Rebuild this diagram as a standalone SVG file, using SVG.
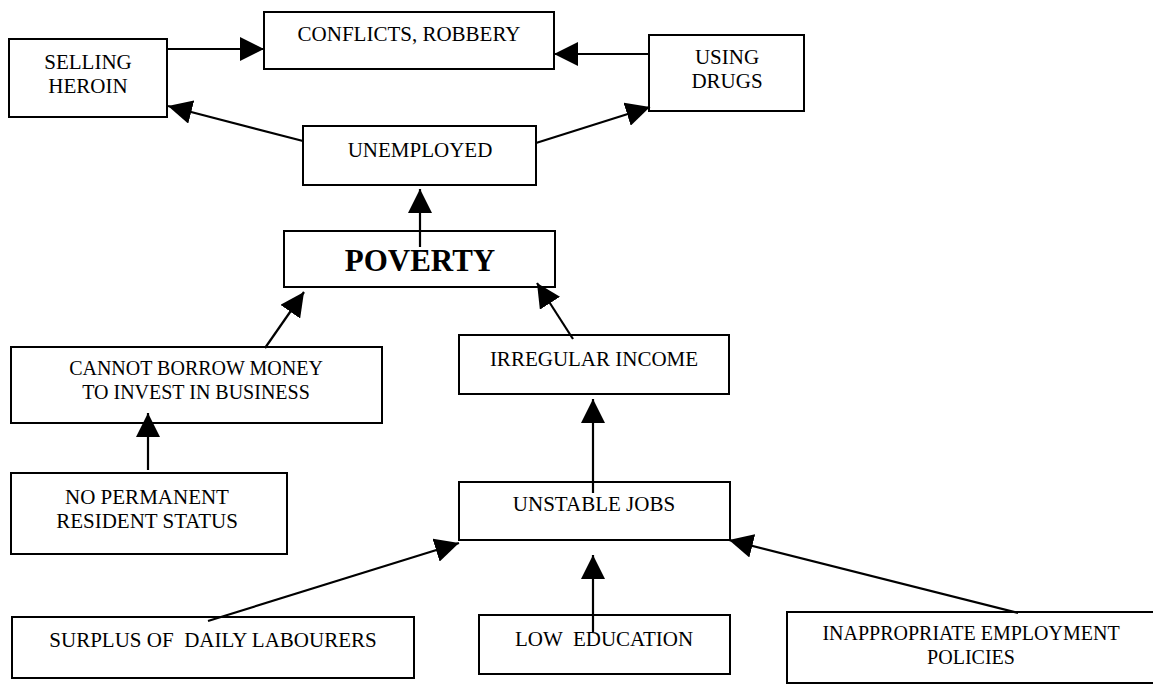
<svg xmlns="http://www.w3.org/2000/svg" width="1153" height="687" viewBox="0 0 1153 687">
<style>
.box{fill:#fff;stroke:#000;stroke-width:2}
.t{font-family:"Liberation Serif","Times New Roman",serif;font-size:21px;fill:#000;text-anchor:middle;white-space:pre}
.s{font-size:20px}
.b{font-weight:bold;font-size:31px}
.c{fill:none;stroke:#000;stroke-width:2.2}
</style>
<defs>
<marker id="ah" markerUnits="userSpaceOnUse" markerWidth="24" markerHeight="24" viewBox="0 0 20 20" refX="20" refY="10" orient="auto">
<path d="M0,0 L20,10 L0,20 Z" fill="#000"/>
</marker>
</defs>
<rect width="1153" height="687" fill="#fff"/>
<g id="selling-heroin"><rect class="box" x="9" y="39" width="158" height="78"/><text class="t" x="88" y="69">SELLING</text><text class="t" x="88" y="93">HEROIN</text></g>
<g id="conflicts"><rect class="box" x="264" y="12" width="290" height="57"/><text class="t" x="409" y="41">CONFLICTS, ROBBERY</text></g>
<g id="using-drugs"><rect class="box" x="649" y="35" width="155" height="76"/><text class="t" x="727" y="64">USING</text><text class="t" x="727" y="88">DRUGS</text></g>
<g id="unemployed"><rect class="box" x="303" y="126" width="233" height="59"/><text class="t" x="420" y="157">UNEMPLOYED</text></g>
<g id="poverty"><rect class="box" x="284" y="231" width="271" height="56"/><text class="t b" x="420" y="271">POVERTY</text></g>
<g id="cannot-borrow"><rect class="box" x="11" y="347" width="371" height="76"/><text class="t s" x="196" y="375">CANNOT BORROW MONEY</text><text class="t s" x="196" y="399">TO INVEST IN BUSINESS</text></g>
<g id="irregular-income"><rect class="box" x="459" y="335" width="270" height="59"/><text class="t" x="594" y="366">IRREGULAR INCOME</text></g>
<g id="no-permanent"><rect class="box" x="11" y="473" width="276" height="81"/><text class="t" x="147" y="504">NO PERMANENT</text><text class="t" x="147" y="528">RESIDENT STATUS</text></g>
<g id="unstable-jobs"><rect class="box" x="459" y="482" width="271" height="58"/><text class="t" x="594" y="511">UNSTABLE JOBS</text></g>
<g id="surplus"><rect class="box" x="12" y="617" width="402" height="61"/><text class="t" x="213" y="647">SURPLUS OF  DAILY LABOURERS</text></g>
<g id="low-education"><rect class="box" x="479" y="615" width="251" height="59"/><text class="t" x="604" y="646">LOW  EDUCATION</text></g>
<g id="inappropriate"><rect class="box" x="787" y="612" width="400" height="71"/><text class="t s" x="971" y="640">INAPPROPRIATE EMPLOYMENT</text><text class="t s" x="971" y="664">POLICIES</text></g>
<g id="connectors">
<line class="c" x1="167" y1="49" x2="264" y2="49" marker-end="url(#ah)"/>
<line class="c" x1="649" y1="54" x2="554" y2="54" marker-end="url(#ah)"/>
<line class="c" x1="303" y1="141" x2="168" y2="106" marker-end="url(#ah)"/>
<line class="c" x1="536" y1="143" x2="650" y2="107" marker-end="url(#ah)"/>
<line class="c" x1="420" y1="247" x2="420" y2="189" marker-end="url(#ah)"/>
<line class="c" x1="265" y1="348" x2="304" y2="292" marker-end="url(#ah)"/>
<line class="c" x1="573" y1="339" x2="537" y2="283" marker-end="url(#ah)"/>
<line class="c" x1="593" y1="493" x2="593" y2="399" marker-end="url(#ah)"/>
<line class="c" x1="148" y1="470" x2="148" y2="413" marker-end="url(#ah)"/>
<line class="c" x1="208" y1="621" x2="459" y2="543" marker-end="url(#ah)"/>
<line class="c" x1="593" y1="632" x2="593" y2="555" marker-end="url(#ah)"/>
<line class="c" x1="1018" y1="613" x2="729" y2="540" marker-end="url(#ah)"/>
</g>
</svg>
